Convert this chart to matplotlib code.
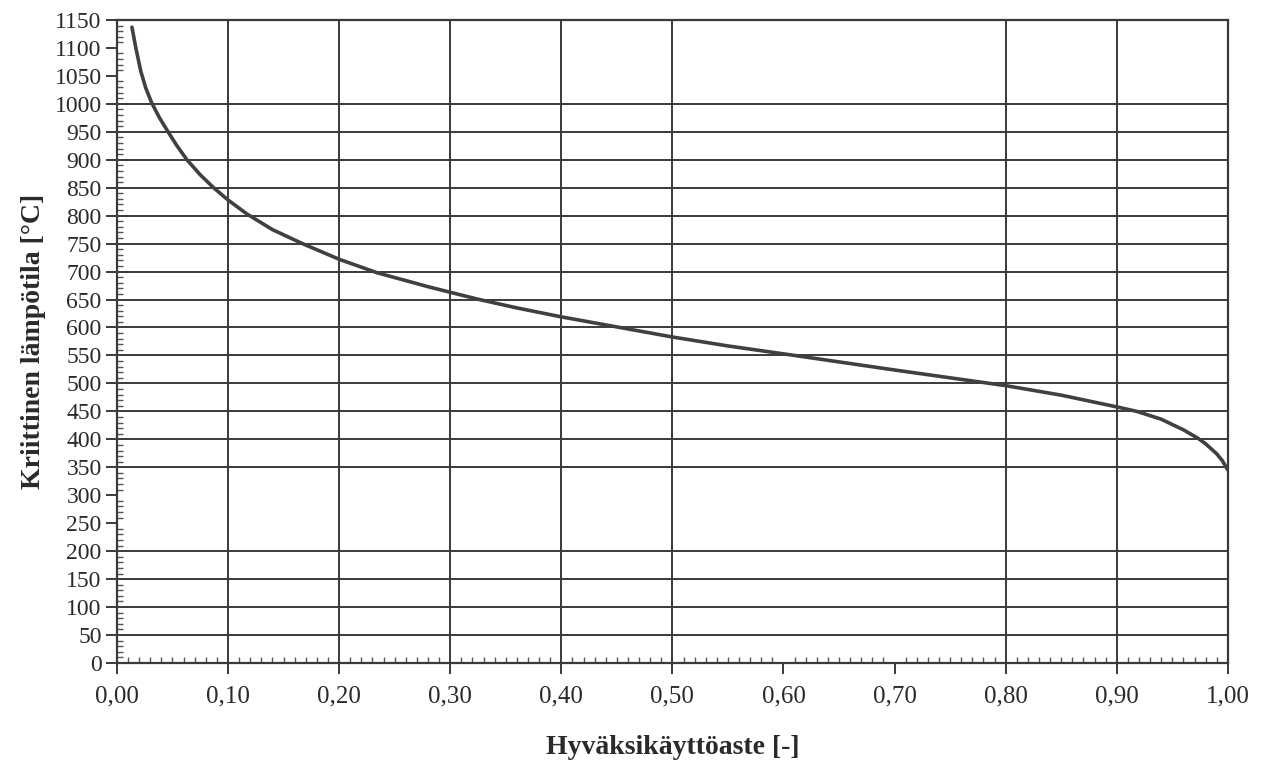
import numpy as np
import matplotlib
matplotlib.use('Agg')
import matplotlib.pyplot as plt
from matplotlib.ticker import MultipleLocator, FuncFormatter

# kayran pisteet luettu kuvasta
kayttoaste = [0.0135, 0.017, 0.0215, 0.026, 0.031, 0.038, 0.046, 0.054, 0.063,
              0.075, 0.087, 0.10, 0.117, 0.14, 0.167, 0.20, 0.234, 0.28, 0.30,
              0.324, 0.36, 0.40, 0.45, 0.50, 0.55, 0.61, 0.70, 0.80, 0.85,
              0.90, 0.918, 0.94, 0.96, 0.973, 0.98, 0.99, 0.995, 1.0]
lampotila = [1137, 1100, 1058, 1028, 1003, 976, 950, 925, 900,
             873, 850, 828, 803, 775, 750, 722, 698, 673, 663,
             651, 635, 619, 601, 583, 567, 550, 524, 496, 479,
             458, 450, 436, 417, 402, 392, 374, 362, 345]

# viivat jotka nakyvat kuvassa (osa puuttuu)
grid_x = [0.1, 0.2, 0.3, 0.4, 0.5, 0.8, 0.9]
grid_y = [50, 100, 150, 200, 350, 400, 450, 500, 550, 600, 650, 700, 750,
          800, 850, 900, 950, 1000]

plt.rcParams['font.family'] = ['Liberation Serif', 'DejaVu Serif']

fig = plt.figure(figsize=(12.67, 7.67), dpi=100)
ax = fig.add_axes([0.0923, 0.1356, 0.8768, 0.8384])

c = '#3a3a3a'
for gx in grid_x:
    ax.axvline(gx, color=c, lw=1.4, zorder=1)
for gy in grid_y:
    ax.axhline(gy, color=c, lw=1.4, zorder=1)

ax.plot(kayttoaste, lampotila, color='#404040', lw=2.6, zorder=3,
        solid_capstyle='round', solid_joinstyle='round')

ax.set_xlim(0, 1.0)
ax.set_ylim(0, 1150)
ax.xaxis.set_major_locator(MultipleLocator(0.1))
ax.xaxis.set_minor_locator(MultipleLocator(0.01))
ax.yaxis.set_major_locator(MultipleLocator(50))
ax.yaxis.set_minor_locator(MultipleLocator(10))
ax.xaxis.set_major_formatter(FuncFormatter(lambda v, p: '{:.2f}'.format(v).replace('.', ',')))
ax.tick_params(axis='both', which='major', direction='out', length=8,
               width=1.4, color=c, labelsize=18, labelcolor='#2a2a2a')
ax.tick_params(axis='y', which='major', labelsize=17, pad=3)
ax.tick_params(axis='x', which='major', pad=8)
ax.tick_params(axis='both', which='minor', direction='in', length=4,
               width=1.0, color='#555555')

for s in ax.spines.values():
    s.set_color(c)
    s.set_linewidth(1.6)

ax.set_xlabel('Hyväksikäyttöaste [-]', fontsize=20, fontweight='bold',
              color='#2a2a2a', labelpad=20)
ax.set_ylabel('Kriittinen lämpötila [°C]', fontsize=20, fontweight='bold',
              color='#2a2a2a', labelpad=6)

fig.savefig('out.png', dpi=100, facecolor='white')
